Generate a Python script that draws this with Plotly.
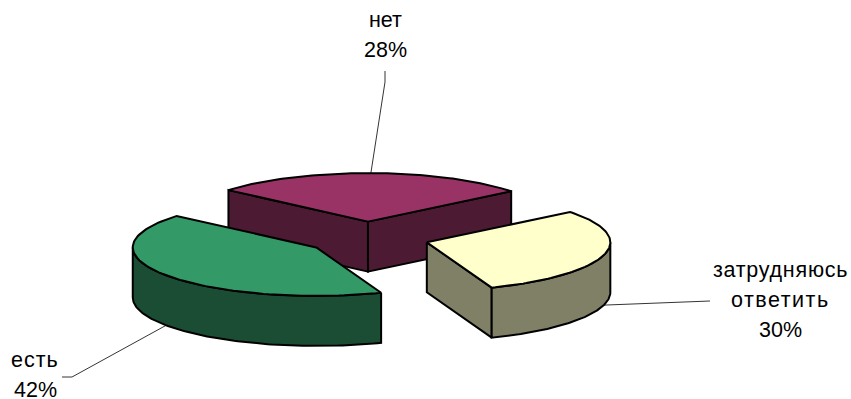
import numpy as np
import plotly.graph_objects as go

names = ['нет', 'затрудняюсь ответить', 'есть']
values = [28, 30, 42]
top_colors = ['#993366', '#FFFFCC', '#339966']
side_colors = ['#4D1A33', '#808066', '#1A4D33']

# pie geometry, in page pixels
CX, CY = 367, 238
RX, RY = 183.5, 48.5
DEPTH = 50
EXPLODE = 0.338
START = -49.5  # degrees clockwise from 12 o'clock
FONT = dict(family='Liberation Sans, Arial', size=21.5, color='black')


def point(cx, cy, angle, dy=0):
    a = np.radians(angle)
    return cx + RX * np.sin(a), cy - RY * np.cos(a) + dy


def arc(cx, cy, a0, a1, dy=0):
    t = np.linspace(a0, a1, 90)
    return point(cx, cy, t, dy)


def poly(fig, x, y, color):
    fig.add_trace(go.Scatter(x=list(x) + [x[0]], y=list(y) + [y[0]], mode='lines', fill='toself',
                             fillcolor=color, line=dict(color='black', width=2),
                             hoverinfo='skip', showlegend=False))


fig = go.Figure()
leaders = []
a0 = START
for name, v, top, side in zip(names, values, top_colors, side_colors):
    a1 = a0 + v * 3.6
    mid = (a0 + a1) / 2
    cx, cy = point(CX, CY, mid)
    cx, cy = CX + (cx - CX) * EXPLODE, CY + (cy - CY) * EXPLODE

    # radial walls, drawn only when they face the viewer
    for a, shown in ((a0, np.sin(np.radians(a0)) < 0), (a1, np.sin(np.radians(a1)) > 0)):
        if shown:
            ex, ey = point(cx, cy, a)
            poly(fig, [cx, ex, ex, cx], [cy, ey, ey + DEPTH, cy + DEPTH], side)

    # outer wall, only the part below the widest point shows
    f0, f1 = max(a0, 90), min(a1, 270)
    if f0 < f1:
        tx, ty = arc(cx, cy, f0, f1)
        bx, by = arc(cx, cy, f1, f0, DEPTH)
        poly(fig, np.r_[tx, bx], np.r_[ty, by], side)

    # top face
    tx, ty = arc(cx, cy, a0, a1)
    poly(fig, np.r_[[cx], tx], np.r_[[cy], ty], top)

    leaders.append(point(cx, cy, mid, DEPTH if 90 < mid < 270 else 0))
    a0 = a1

# leader lines, from the middle of each slice's rim to its label
elbows = [[(385, 82), (385, 71)], [(710, 301)], [(72, 377), (62, 377)]]
for start, bend in zip(leaders, elbows):
    pts = [start] + bend
    fig.add_trace(go.Scatter(x=[p[0] for p in pts], y=[p[1] for p in pts], mode='lines',
                             line=dict(color='black', width=0.8), hoverinfo='skip', showlegend=False))

label_pos = [(385, 20), (780, 270), (35, 360)]
for name, v, (x, y) in zip(names, values, label_pos):
    for i, line in enumerate(name.split(' ') + [f'{v}%']):
        # the last line sits right on the page edge, keep its box inside
        box = 18 if y + 30 * i > 380 else None
        fig.add_annotation(x=x, y=y + 30 * i, text=line, showarrow=False, font=FONT,
                           xanchor='center', yanchor='middle', height=box, borderpad=0)

fig.update_xaxes(range=[0, 851], visible=False)
fig.update_yaxes(range=[399, 0], visible=False)
fig.update_layout(width=851, height=399, margin=dict(l=0, r=0, t=0, b=0),
                  paper_bgcolor='white', plot_bgcolor='white', showlegend=False)

# the original labels are set a little wider than the font's own spacing
post = """document.body.style.margin='0';
var spacing = {'затрудняюсь': '0.75px', 'ответить': '1.5px', 'есть': '1px'};
document.querySelectorAll('.annotation-text').forEach(function (t) {
    if (spacing[t.textContent]) { t.style.letterSpacing = spacing[t.textContent]; }
});"""
fig.write_html("out.html", post_script=post, config=dict(displayModeBar=False))
